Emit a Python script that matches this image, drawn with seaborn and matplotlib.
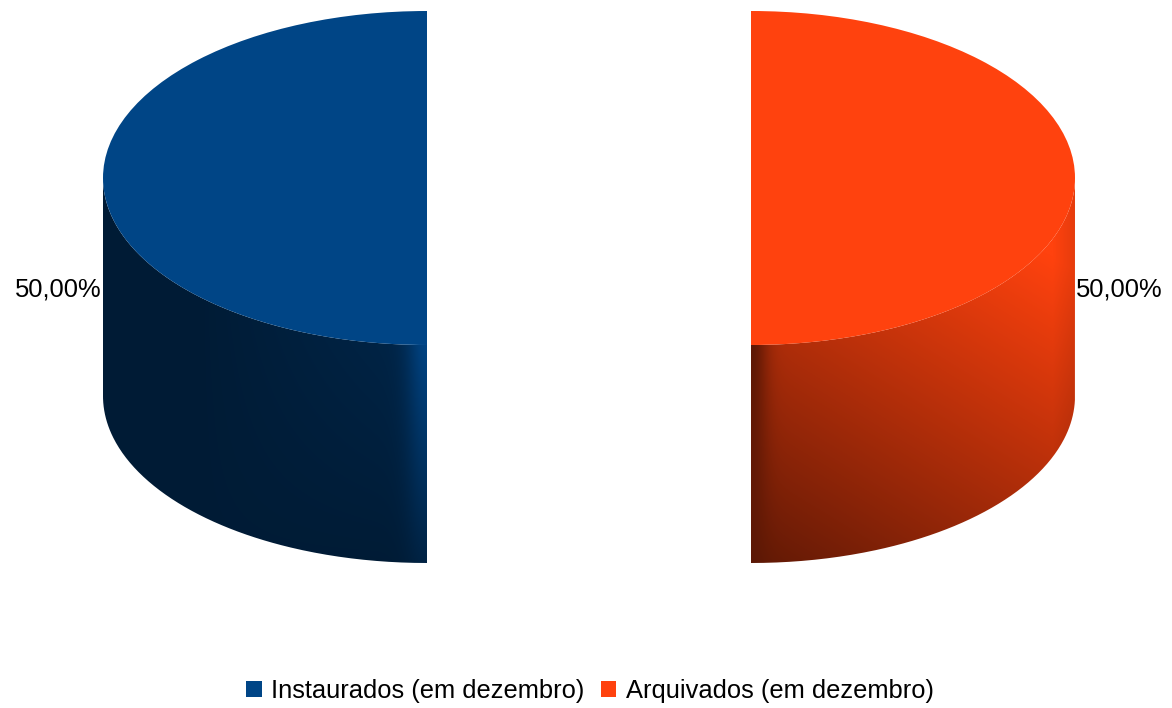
import numpy as np
import matplotlib
matplotlib.use("Agg")
import matplotlib.pyplot as plt
from matplotlib.path import Path
from matplotlib.patches import PathPatch
from matplotlib.transforms import Affine2D
import seaborn as sns

categories = ["Instaurados (em dezembro)", "Arquivados (em dezembro)"]
values = [50, 50]
colors = ["#004586", "#ff420e"]

W, H = 1172, 708
RX, RY = 324, 167
DEPTH = 218
CX, CY = 589, H - 178

sns.set_theme(style="white")
plt.rcParams["font.family"] = ["Liberation Sans", "DejaVu Sans"]

fig = plt.figure(figsize=(W / 100, H / 100), dpi=100, facecolor="white")
ax = fig.add_axes([0, 0, 1, 1])

wedges, _ = ax.pie(values, colors=sns.color_palette(colors), startangle=90,
                   radius=1, center=(0, 0), explode=[0.5, 0.5], labels=None,
                   wedgeprops=dict(linewidth=0))
ax.set_aspect("auto")
ax.set_xlim(0, W)
ax.set_ylim(0, H)
ax.set_axis_off()

top_tf = Affine2D().scale(RX, RY).translate(CX, CY) + ax.transData
total = sum(values)


def shade_left(u, d):
    # u: 0 at inner edge, 1 at rim; d: 0 at top, 1 at bottom of the cylinder
    base = 0.40 + 0.35 * np.clip(1 - u / 0.7, 0, 1) * np.clip(1 - d, 0, 1)
    glow = np.exp(-(u / 0.06) ** 2) * np.clip(0.42 - 0.83 * (d - 0.62), 0, 1)
    return base + glow


def shade_right(u, d):
    base = 1.08 + 0.25 * u - 0.70 * d
    strength = np.clip(0.42 - 0.97 * (d - 0.63), 0.05, 1)
    edge = 1 - strength * np.exp(-(u / 0.05) ** 2)
    rim = 1 - 0.10 * np.clip((u - 0.93) / 0.07, 0, 1)
    return np.clip(base, 0, 1) * edge * rim


shaders = [shade_left, shade_right]

for wedge, col, shade, val in zip(wedges, colors, shaders, values):
    cx = CX + wedge.center[0] * RX
    left = cx < CX
    lo, hi = (180, 270) if left else (270, 360)
    t = np.radians(np.linspace(lo, hi, 200))
    xs = cx + RX * np.cos(t)
    ys = CY + RY * np.sin(t)
    verts = np.r_[np.c_[xs, ys], np.c_[xs[::-1], ys[::-1] - DEPTH]]
    verts = np.r_[verts, verts[:1]]
    clip = PathPatch(Path(verts), transform=ax.transData, fc="none", ec="none")
    ax.add_patch(clip)

    x0, x1 = xs.min(), xs.max()
    y1, y0 = CY, CY - RY - DEPTH
    gx, gy = np.meshgrid(np.linspace(x0, x1, 400), np.linspace(y1, y0, 400))
    u = np.abs(gx - cx) / RX
    d = ((CY + RY) - gy) / (2 * RY + DEPTH)
    f = shade(u, d)
    rgb = np.array(matplotlib.colors.to_rgb(col))
    img = np.clip(f[..., None] * rgb, 0, 1)
    im = ax.imshow(img, extent=(x0, x1, y0, y1), origin="upper", aspect="auto",
                   interpolation="bilinear", zorder=1)
    im.set_clip_path(clip)

    wedge.set_transform(top_tf)
    wedge.set_zorder(3)

    pct = f"{val / total * 100:.2f}".replace(".", ",") + "%"
    ax.text(x0 - 1 if left else x1 + 1, H - 290, pct, fontsize=18.4, color="black",
            ha="right" if left else "left", va="center", zorder=4)

ax.set_xlim(0, W)
ax.set_ylim(0, H)
ax.set_aspect("auto")

ax.legend(wedges, categories, loc="center", bbox_to_anchor=(590, H - 691),
          bbox_transform=ax.transData, ncol=2, frameon=False, fontsize=18.4,
          handlelength=0.6, handleheight=0.63, handletextpad=0.36,
          columnspacing=0.66, borderpad=0, borderaxespad=0, labelcolor="black")

fig.savefig("out.png", dpi=100, facecolor="white")
